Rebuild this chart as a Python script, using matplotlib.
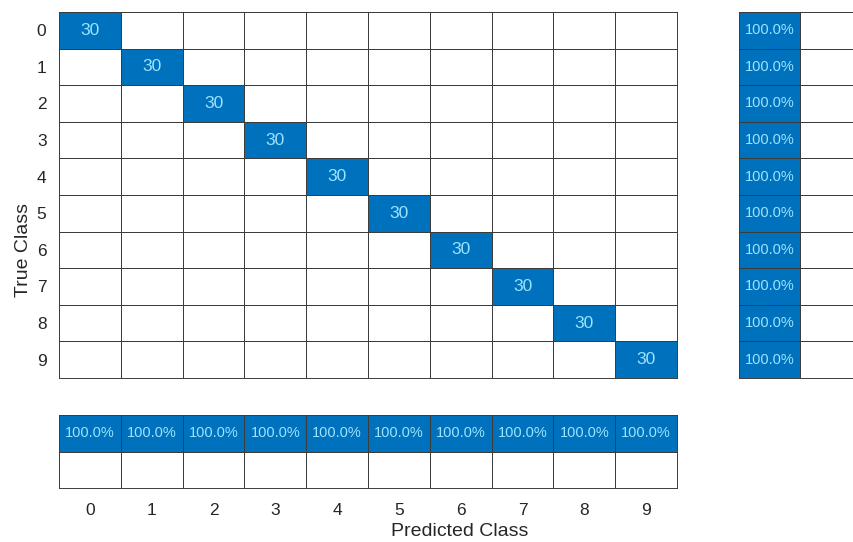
import numpy as np
import matplotlib
matplotlib.use("Agg")
import matplotlib.pyplot as plt
from matplotlib.colors import ListedColormap

plt.rcParams['font.family'] = ['Liberation Sans', 'DejaVu Sans']

classes = ['0', '1', '2', '3', '4', '5', '6', '7', '8', '9']
counts = np.diag([30, 30, 30, 30, 30, 30, 30, 30, 30, 30])
row_correct_pct = [100.0] * 10   # true positive rate per true class
row_wrong_pct = [0.0] * 10
col_correct_pct = [100.0] * 10   # precision per predicted class
col_wrong_pct = [0.0] * 10

BLUE = '#0072BD'
TXT = '#9BE3FF'
EDGE = '#3c3c3c'

W, H = 854, 542
fig = plt.figure(figsize=(W / 100, H / 100), dpi=100)


def ax_px(x0, y0, x1, y1):
    return fig.add_axes([x0 / W, 1 - y1 / H, (x1 - x0) / W, (y1 - y0) / H])


def draw_cells(ax, vals, labels, fs):
    nr, nc = vals.shape
    ax.pcolormesh(np.arange(nc + 1) - 0.5, np.arange(nr + 1) - 0.5,
                  np.where(vals == 0, 0, 1), cmap=ListedColormap(['white', BLUE]),
                  vmin=0, vmax=1, edgecolors=EDGE, linewidth=0.7)
    for i in range(nr):
        for j in range(nc):
            if labels[i][j]:
                ax.text(j, i, labels[i][j], ha='center', va='center',
                        color=TXT, fontsize=fs)
    ax.set_xlim(-0.5, nc - 0.5)
    ax.set_ylim(nr - 0.5, -0.5)
    for s in ax.spines.values():
        s.set_color(EDGE)
        s.set_linewidth(0.7)


# main matrix
ax = ax_px(59, 12, 677, 378)
lab = [[str(counts[i, j]) if counts[i, j] else '' for j in range(10)] for i in range(10)]
draw_cells(ax, counts, lab, 12.5)
ax.set_xticks([])
ax.set_yticks(range(10))
ax.set_yticklabels(classes, fontsize=12.5, color='#262626')
ax.tick_params(axis='y', length=0, pad=9)

# row summary (right)
axr = ax_px(739, 12, 861, 378)
rv = np.column_stack([row_correct_pct, row_wrong_pct])
rl = [[f'{v:.1f}%' if v else '' for v in row] for row in rv]
draw_cells(axr, rv, rl, 10.5)
axr.set_xticks([])
axr.set_yticks([])

# column summary (bottom)
axb = ax_px(59, 415, 677, 488)
cv = np.vstack([col_correct_pct, col_wrong_pct])
cl = [[f'{v:.1f}%' if v else '' for v in row] for row in cv]
draw_cells(axb, cv, cl, 10.5)
axb.set_yticks([])
axb.set_xticks(range(10))
axb.set_xticklabels(classes, fontsize=12.5, color='#262626')
axb.tick_params(axis='x', length=0, pad=11)

# axis labels centred over the whole chart (matrix + summaries)
fig.text(460 / W, 1 - 531 / H, 'Predicted Class', ha='center', va='center',
         fontsize=14, color='#262626')
fig.text(24 / W, 1 - 250 / H, 'True Class', ha='center', va='center',
         rotation=90, fontsize=14, color='#262626')

fig.savefig('out.png', dpi=100)
